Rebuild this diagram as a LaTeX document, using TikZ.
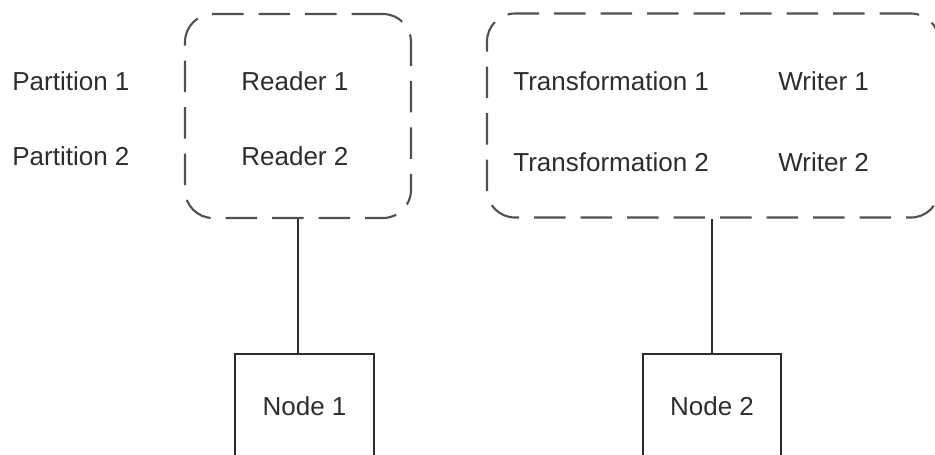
\documentclass[tikz,border=0pt]{standalone}
\usepackage{fontspec}
\setmainfont{Liberation Sans}
\usetikzlibrary{positioning}
\definecolor{ink}{RGB}{45,45,45}
\definecolor{slate}{RGB}{80,80,80}
\tikzset{
  stage/.style={draw=slate,line width=1.2pt,dash pattern=on 0.63cm off 0.3cm,
    rounded corners=0.56cm,minimum width=#1,minimum height=4.08cm},
  stage/.default=4.52cm,
  host/.style={draw=ink,line width=0.9pt,minimum width=2.78cm,minimum height=2.08cm,
    font=\fontsize{14.8}{17}\selectfont,text=ink},
  tag/.style={anchor=west,inner sep=0pt,font=\fontsize{14.8}{17}\selectfont,text=ink},
  wire/.style={draw=ink,line width=0.9pt},
}
\begin{document}
\begin{tikzpicture}
  \useasboundingbox (0,0) rectangle (18.7,-9.08);
  \clip (0,0) rectangle (18.7,-9.08);
  % stages
  \node[stage] (readbox) at (5.96,-2.32) {};
  \node[stage=9.04cm] (writebox) at (14.26,-2.31) {};
  \node[tag] (part1) at (0.24,-1.62) {Partition 1};
  \node[tag] (part2) at (0.24,-3.12) {Partition 2};
  \node[tag] (read1) at (4.82,-1.62) {Reader 1};
  \node[tag] (read2) at (4.82,-3.12) {Reader 2};
  \node[tag] (trans1) at (10.26,-1.62) {Transformation 1};
  \node[tag] (trans2) at (10.26,-3.24) {Transformation 2};
  \node[tag] (write1) at (15.56,-1.62) {Writer 1};
  \node[tag] (write2) at (15.56,-3.24) {Writer 2};
  % machines
  \node[host] (node1) at (6.09,-8.12) {Node 1};
  \node[host,minimum width=2.76cm] (node2) at (14.24,-8.12) {Node 2};
  \draw[wire] (readbox.south) -- (readbox.south |- node1.north);
  \draw[wire] (node2.north) -- (node2.north |- writebox.south);
\end{tikzpicture}
\end{document}
